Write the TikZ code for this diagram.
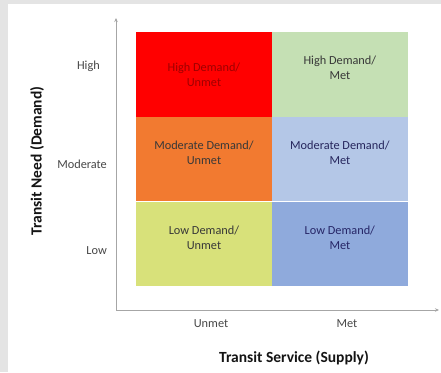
\documentclass[tikz,border=0pt]{standalone}
\usepackage{fontspec}
\setmainfont{Carlito}
\usepackage{tikz}
\usetikzlibrary{arrows.meta, positioning}

\definecolor{cellred}{HTML}{FF0000}
\definecolor{cellgreen}{HTML}{C5E0B4}
\definecolor{cellorange}{HTML}{F27A30}
\definecolor{cellsky}{HTML}{B4C7E7}
\definecolor{cellolive}{HTML}{D8E17A}
\definecolor{cellblue}{HTML}{8FAADC}
\definecolor{axisgray}{HTML}{A6A6A6}
\definecolor{pagegray}{HTML}{E4E4E4}

\begin{document}
\begin{tikzpicture}[x=1pt, y=1pt,
    cell/.style={rectangle, inner sep=0pt, minimum width=135.5pt, minimum height=84.33pt},
    cell red/.style={cell, fill=cellred},
    cell green/.style={cell, fill=cellgreen},
    cell orange/.style={cell, fill=cellorange},
    cell sky/.style={cell, fill=cellsky},
    cell olive/.style={cell, fill=cellolive},
    cell blue/.style={cell, fill=cellblue},
    celltext/.style={align=center, inner sep=0pt, text=black!78, font=\fontsize{12.3}{15}\selectfont},
    tick/.style={inner sep=0pt, text=black!72, font=\fontsize{12.3}{15}\selectfont},
    title/.style={inner sep=0pt, text=black!92, font=\fontsize{15.5}{18}\selectfont\bfseries},
    axis/.style={-{Stealth[length=4pt, width=3.5pt]}, draw=axisgray, line width=0.8pt}
  ]
    % page and white panel
    \fill[pagegray] (0,0) rectangle (441,372);
    \fill[white] (8,0) rectangle (441,368);
    \useasboundingbox (0,0) rectangle (441,372);

    % the 3x2 grid
    \node[cell red, anchor=north west] (hu) at (136,340) {};
    \node[cell green, right=0pt of hu] (hm) {};
    \node[cell orange, below=0pt of hu] (mu) {};
    \node[cell sky, right=0pt of mu] (mm) {};
    \node[cell olive, below=0pt of mu] (lu) {};
    \node[cell blue, right=0pt of lu] (lm) {};

    \node[celltext, text=red!62!black] (hutxt) at (hu.center) {High Demand/\\Unmet};
    \node[celltext] (hmtxt) at ([yshift=6.5pt]hm.center) {High Demand/\\Met};
    \node[celltext] (mutxt) at ([yshift=6.5pt]mu.center) {Moderate Demand/\\Unmet};
    \node[celltext, text=blue!25!black!85] (mmtxt) at ([yshift=6.5pt]mm.center) {Moderate Demand/\\Met};
    \node[celltext] (lutxt) at ([yshift=6.5pt]lu.center) {Low Demand/\\Unmet};
    \node[celltext, text=blue!30!black!85] (lmtxt) at ([yshift=6.5pt]lm.center) {Low Demand/\\Met};

    % axes
    \coordinate (origin) at (116,62);
    \coordinate (ytop) at (116,354);
    \coordinate (xend) at (439,62);
    \draw[axis] (origin) -- (ytop);
    \draw[axis] (origin) -- (xend);

    % tick labels
    \node[tick, anchor=east] (high) at (100,306) {High};
    \node[tick, anchor=east] (moderate) at (107,208) {Moderate};
    \node[tick, anchor=east] (low) at (107,121) {Low};
    \node[tick] (unmet) at (211,48) {Unmet};
    \node[tick] (met) at (347,48) {Met};

    % axis titles
    \node[title] (supply) at (294,14) {Transit Service (Supply)};
    \node[title, rotate=90] (demand) at (37,211) {Transit Need (Demand)};
  \end{tikzpicture}
\end{document}
